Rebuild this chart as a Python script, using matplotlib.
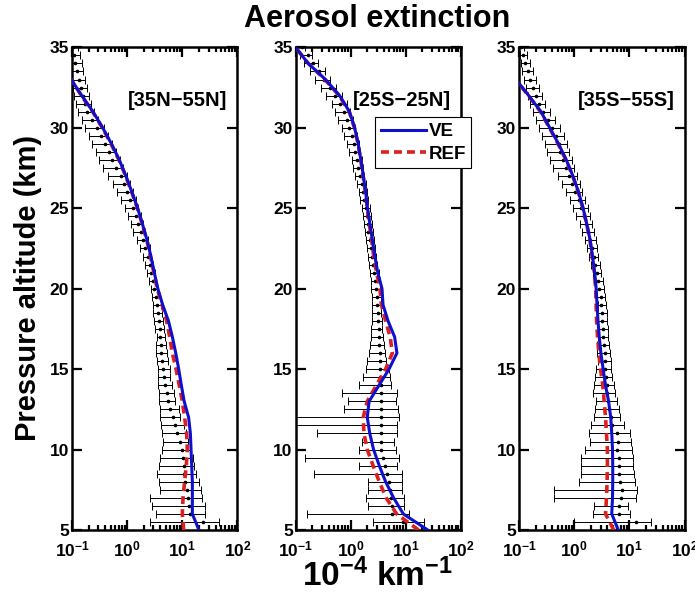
import numpy as np
import matplotlib
matplotlib.use('Agg')
import matplotlib.pyplot as plt
from matplotlib.ticker import FixedLocator, LogLocator, NullFormatter

plt.rcParams['font.family'] = 'Liberation Sans'
plt.rcParams['font.weight'] = 'bold'
plt.rcParams['mathtext.fontset'] = 'custom'
plt.rcParams['mathtext.rm'] = 'Liberation Sans:bold'
plt.rcParams['mathtext.it'] = 'Liberation Sans:bold'
plt.rcParams['mathtext.bf'] = 'Liberation Sans:bold'
plt.rcParams['mathtext.default'] = 'rm'

# altitude levels (km)
alt_bars = [5.5, 6.0, 6.5, 7.0, 7.5, 8.0, 8.5, 9.0, 9.5, 10.0,
            10.5, 11.0, 11.5, 12.0, 12.5, 13.0, 13.5, 14.0, 14.5, 15.0,
            15.5, 16.0, 16.5, 17.0, 17.5, 18.0, 18.5, 19.0, 19.5, 20.0,
            20.5, 21.0, 21.5, 22.0, 22.5, 23.0, 23.5, 24.0, 24.5, 25.0,
            25.5, 26.0, 26.5, 27.0, 27.5, 28.0, 28.5, 29.0, 29.5, 30.0,
            30.5, 31.0, 31.5, 32.0, 32.5, 33.0, 33.5, 34.0, 34.5, 35.0]
alt_line = [5, 6, 7, 8, 9, 10, 11, 12, 13, 14, 15, 16, 17, 18, 19, 20,
            21, 22, 23, 24, 25, 26, 27, 28, 29, 30, 31, 32, 33, 34, 35]

regions = ['[35N\u221255N]', '[25S\u221225N]', '[35S\u221255S]']

# ---- [35N-55N] ----
nh_lo = [2.6, 3.4, 2.8, 2.6, 3.9, 3.7, 3.5, 3.7, 4.0, 4.3,
         4.45, 4.27, 4.1, 4.0, 3.9, 3.7, 3.7, 3.56, 3.56, 3.56,
         3.46, 3.37, 3.37, 3.46, 3.2, 3.1, 3.0, 2.9, 2.8, 2.65,
         2.5, 2.3, 2.1, 1.9, 1.7, 1.5, 1.3, 1.15, 1.02, 0.9,
         0.78, 0.65, 0.55, 0.45, 0.36, 0.31, 0.27, 0.23, 0.2, 0.17,
         0.15, 0.13, 0.12, 0.11, 0.105, 0.1, 0.095, 0.09, 0.09, 0.085]
nh_mean = [24, 14.0, 13.0, 12.5, 12.2, 11.3, 10.6, 10.6, 10.3, 9.9,
           8.9, 8.0, 7.5, 6.8, 6.05, 5.6, 5.3, 4.9, 4.7, 4.45,
           4.27, 4.1, 4.1, 3.9, 3.9, 3.72, 3.56, 3.5, 3.3, 3.05,
           2.9, 2.75, 2.55, 2.35, 2.15, 1.95, 1.75, 1.58, 1.42, 1.28,
           1.13, 1.0, 0.88, 0.76, 0.63, 0.54, 0.46, 0.39, 0.33, 0.28,
           0.23, 0.19, 0.17, 0.155, 0.145, 0.135, 0.125, 0.115, 0.11, 0.105]
nh_hi = [46, 26, 26, 23, 22, 20, 18, 16.5, 15.5, 14.0,
         12.5, 11.5, 10.8, 9.2, 8.6, 7.5, 7.0, 6.5, 6.05, 5.9,
         5.4, 5.26, 5.1, 4.9, 4.7, 4.45, 4.27, 4.1, 3.9, 3.5,
         3.35, 3.15, 2.95, 2.75, 2.55, 2.35, 2.15, 1.95, 1.75, 1.58,
         1.42, 1.26, 1.12, 1.0, 0.84, 0.73, 0.62, 0.53, 0.45, 0.38,
         0.3, 0.25, 0.22, 0.2, 0.19, 0.175, 0.16, 0.15, 0.14, 0.13]
nh_ve = [20, 15.2, 15.2, 15.2, 14.8, 14.4, 14.0, 13.0, 10.8, 9.6, 8.6, 7.6, 6.6, 5.6, 4.4, 3.6,
         3.1, 2.7, 2.3, 1.9, 1.55, 1.22, 0.95, 0.72, 0.52, 0.36, 0.24, 0.15, 0.097, 0.063, 0.04]
nh_ref = [10.6, 10.0, 10.3, 11.0, 11.8, 12.3, 12.0, 11.0, 10.0, 8.8, 7.7, 6.6, 5.9, 5.2, 4.3, 3.5,
          3.05, 2.65, 2.28, 1.88, 1.53, 1.21, 0.94, 0.71, 0.51, 0.355, 0.237, 0.148, 0.096, 0.062, 0.04]

# ---- [25S-25N] ----
tr_lo = [2.5, 0.16, 2.07, 1.93, 2.07, 2.07, 0.22, 1.4, 0.15, 1.4,
         1.58, 0.25, 0.05, 0.05, 0.77, 0.88, 0.7, 1.43, 1.64, 1.89,
         2.0, 2.16, 2.2, 2.29, 2.35, 2.45, 2.48, 2.48, 2.45, 2.38,
         2.3, 2.22, 2.15, 2.08, 1.98, 1.88, 1.8, 1.72, 1.65, 1.58,
         1.5, 1.4, 1.3, 1.2, 1.12, 1.04, 0.95, 0.85, 0.77, 0.69,
         0.6, 0.52, 0.45, 0.36, 0.29, 0.23, 0.18, 0.14, 0.12, 0.1]
tr_mean = [9.0, 5.7, 5.5, 5.4, 5.2, 5.0, 4.6, 4.2, 3.8, 3.6,
           3.6, 3.6, 3.6, 3.6, 3.6, 3.6, 3.6, 3.55, 3.46, 3.46,
           3.4, 3.35, 3.3, 3.27, 3.25, 3.15, 3.1, 3.0, 2.95, 2.85,
           2.75, 2.65, 2.55, 2.45, 2.32, 2.2, 2.1, 2.02, 1.95, 1.88,
           1.78, 1.68, 1.58, 1.48, 1.38, 1.28, 1.2, 1.13, 1.05, 0.93,
           0.85, 0.75, 0.63, 0.52, 0.42, 0.33, 0.27, 0.21, 0.17, 0.13]
tr_hi = [21, 11.2, 9.2, 9.2, 8.7, 8.5, 8.5, 7.0, 7.5, 6.5,
         6.2, 7.0, 7.0, 7.5, 7.2, 6.5, 7.0, 5.45, 5.23, 4.95,
         4.43, 4.14, 3.97, 3.8, 3.76, 3.7, 3.6, 3.55, 3.5, 3.46,
         3.35, 3.2, 3.05, 2.9, 2.75, 2.6, 2.5, 2.4, 2.3, 2.2,
         2.1, 1.98, 1.88, 1.78, 1.68, 1.58, 1.48, 1.4, 1.32, 1.22,
         1.1, 0.98, 0.85, 0.7, 0.55, 0.43, 0.34, 0.26, 0.2, 0.15]
tr_ve = [25, 9.0, 6.0, 4.3, 3.3, 2.6, 2.22, 2.0, 2.16, 3.27, 4.95, 6.9, 6.26, 4.75, 3.86, 3.7,
         3.1, 2.75, 2.48, 2.24, 2.02, 1.87, 1.7, 1.53, 1.37, 1.18, 0.95, 0.63, 0.35, 0.17, 0.1]
tr_ref = [17, 6.8, 4.4, 3.3, 2.55, 2.0, 1.74, 1.69, 2.0, 2.93, 4.3, 5.7, 5.2, 4.3, 3.6, 3.4,
          2.95, 2.62, 2.4, 2.18, 2.0, 1.85, 1.68, 1.52, 1.36, 1.17, 0.94, 0.62, 0.34, 0.17, 0.1]

# ---- [35S-55S] ----
sh_lo = [1.0, 2.16, 2.25, 0.43, 0.43, 1.21, 1.31, 1.31, 1.35, 1.54,
         1.97, 1.89, 2.0, 2.25, 2.38, 2.48, 2.16, 2.32, 2.38, 2.48,
         2.65, 2.58, 2.58, 2.65, 2.72, 2.65, 2.65, 2.65, 2.58, 2.4,
         2.3, 2.15, 2.0, 1.85, 1.7, 1.55, 1.4, 1.25, 1.1, 0.96,
         0.83, 0.7, 0.6, 0.5, 0.42, 0.36, 0.32, 0.29, 0.26, 0.23,
         0.2, 0.18, 0.16, 0.145, 0.135, 0.125, 0.115, 0.11, 0.105, 0.1]
sh_mean = [13, 6.4, 6.4, 7.0, 7.3, 6.67, 6.4, 6.4, 6.4, 5.98,
           6.14, 5.98, 4.88, 4.56, 4.26, 4.09, 3.98, 3.87, 3.72, 3.57,
           3.57, 3.57, 3.48, 3.38, 3.38, 3.25, 3.25, 3.12, 3.04, 2.85,
           2.7, 2.55, 2.4, 2.25, 2.1, 1.95, 1.8, 1.65, 1.5, 1.35,
           1.2, 1.05, 0.92, 0.8, 0.7, 0.62, 0.56, 0.52, 0.46, 0.4,
           0.33, 0.27, 0.23, 0.2, 0.18, 0.16, 0.145, 0.13, 0.12, 0.11]
sh_hi = [25, 10.3, 9.6, 13.1, 13.8, 12.6, 12.1, 11.7, 11.7, 11.0,
         10.6, 10.3, 8.0, 6.84, 6.4, 5.98, 5.58, 5.22, 4.88, 4.68,
         4.56, 4.44, 4.26, 4.09, 4.09, 3.98, 3.87, 3.72, 3.57, 3.45,
         3.3, 3.1, 2.95, 2.75, 2.6, 2.45, 2.3, 2.1, 1.95, 1.77,
         1.58, 1.4, 1.26, 1.12, 1.0, 0.9, 0.82, 0.74, 0.65, 0.56,
         0.45, 0.36, 0.3, 0.26, 0.23, 0.2, 0.18, 0.16, 0.14, 0.125]
sh_ve = [6.3, 4.8, 4.95, 5.0, 5.0, 4.95, 4.8, 4.6, 4.2, 3.7, 3.35, 3.05, 2.85, 2.7, 2.6, 2.5,
         2.35, 2.15, 1.95, 1.7, 1.45, 1.2, 0.95, 0.72, 0.52, 0.36, 0.25, 0.15, 0.088, 0.055, 0.035]
sh_ref = [5.2, 3.7, 3.85, 3.95, 4.0, 4.0, 3.85, 3.7, 3.5, 3.3, 3.0, 2.8, 2.65, 2.55, 2.5, 2.45,
          2.32, 2.12, 1.93, 1.69, 1.44, 1.19, 0.94, 0.71, 0.51, 0.355, 0.245, 0.148, 0.087, 0.054, 0.035]

panels = [(nh_lo, nh_mean, nh_hi, nh_ve, nh_ref),
          (tr_lo, tr_mean, tr_hi, tr_ve, tr_ref),
          (sh_lo, sh_mean, sh_hi, sh_ve, sh_ref)]

fig = plt.figure(figsize=(6.95, 5.97), dpi=100)
lefts = [0.1036, 0.4252, 0.7468]
bottom, width, height = 0.1122, 0.2381, 0.8085

for i, (lo, mean, hi, ve, ref) in enumerate(panels):
    ax = fig.add_axes([lefts[i], bottom, width, height])
    mean = np.array(mean)
    xerr = [mean - np.array(lo), np.array(hi) - mean]
    ax.errorbar(mean, alt_bars, xerr=xerr, fmt='o', ms=1.6, color='k',
                ecolor='k', elinewidth=0.7, capsize=3.2, capthick=0.7, zorder=2)
    l1, = ax.plot(ve, alt_line, color='#1010cc', lw=2.2, zorder=4, label='VE')
    l2, = ax.plot(ref, alt_line, color='#dc2020', lw=2.6, ls=(0, (2.2, 1.4)),
                  zorder=3, label='REF')
    ax.set_xscale('log')
    ax.set_xlim(0.1, 100)
    ax.set_ylim(5, 35)
    ax.yaxis.set_major_locator(FixedLocator([5, 10, 15, 20, 25, 30, 35]))
    ax.xaxis.set_major_locator(LogLocator(base=10, numticks=10))
    ax.xaxis.set_minor_locator(LogLocator(base=10, subs=np.arange(2, 10), numticks=10))
    ax.xaxis.set_minor_formatter(NullFormatter())
    ax.tick_params(which='both', direction='in', top=True, right=True, width=1.6,
                   labelsize=12.5)
    ax.tick_params(which='major', length=7.5)
    ax.tick_params(which='minor', length=3.5)
    ax.tick_params(axis='x', pad=7)
    ax.tick_params(axis='y', pad=2)
    for s in ax.spines.values():
        s.set_linewidth(1.8)
    ax.text(0.94, 0.89, regions[i], transform=ax.transAxes, ha='right', va='center',
            fontsize=14.5, fontweight='bold', zorder=6)
    if i == 1:
        leg = ax.legend(handles=[l1, l2], loc='upper left', bbox_to_anchor=(0.48, 0.855),
                        frameon=True, fancybox=False, edgecolor='k', framealpha=1,
                        fontsize=13.5, handlelength=2.4, handletextpad=0.15,
                        borderpad=0.3, labelspacing=0.3, borderaxespad=0)
        leg.get_frame().set_linewidth(0.8)
        leg.set_zorder(10)

fig.text(0.040, 0.517, 'Pressure altitude (km)', rotation=90, ha='center', va='center',
         fontsize=21, fontweight='bold')
fig.text(0.543, 0.968, 'Aerosol extinction', ha='center', va='center',
         fontsize=22, fontweight='bold')
fig.text(0.543, 0.035, r'$10^{-4}$ km$^{-1}$', ha='center', va='center',
         fontsize=24, fontweight='bold')

fig.savefig('out.png', dpi=100)
